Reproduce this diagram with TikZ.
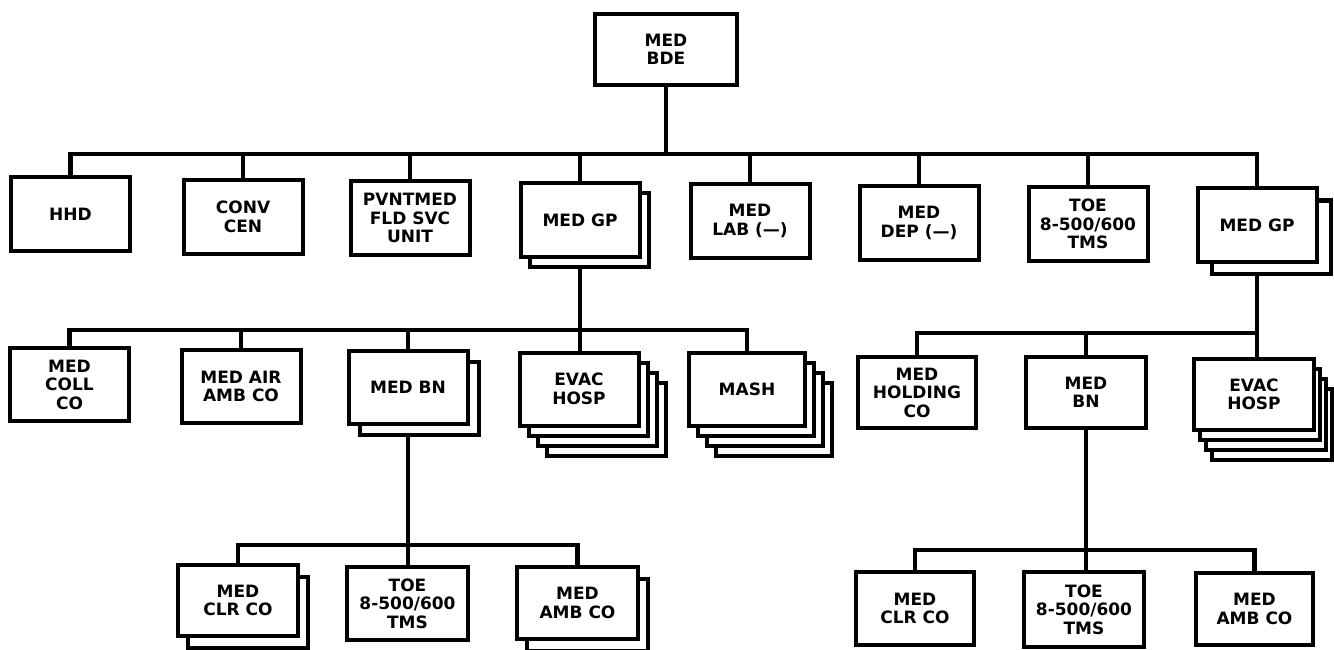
\documentclass[tikz,border=0pt]{standalone}
\usepackage{fontspec}
\setmainfont{DejaVu Sans}
\usetikzlibrary{shadows,backgrounds}
\tikzset{
  unit/.style={draw, line width=4pt, fill=white, align=center,
    minimum width=119pt, minimum height=73pt, inner sep=2pt,
    font=\bfseries\fontsize{17}{18.5}\selectfont},
  link/.style={line width=4.5pt},
  cs/.style 2 args={general shadow={draw=black, fill=white, line width=4pt,
    shadow xshift=#1, shadow yshift=#2}},
}
\begin{document}
\begin{tikzpicture}[x=1pt,y=-1pt]
\useasboundingbox (0,0) rectangle (1334,650);
% bus levels
\coordinate (b1) at (0,154);
\coordinate (b3l) at (0,330);
\coordinate (b3r) at (0,333);
\coordinate (b4l) at (0,545);
\coordinate (b4r) at (0,550);
% row 1
\node[unit, minimum width=142pt, minimum height=71pt] (bde) at (666,49.5) {MED\\BDE};
% row 2
\node[unit] (hhd) at (70.5,214) {HHD};
\node[unit] (conv) at (243,217) {CONV\\CEN};
\node[unit] (pvnt) at (410,218) {PVNTMED\\FLD SVC\\UNIT};
\node[unit, cs={9pt}{-10pt}] (gpL) at (580,220) {MED GP};
\node[unit] (lab) at (750,221) {MED\\LAB (—)};
\node[unit] (dep) at (919,223) {MED\\DEP (—)};
\node[unit] (toe) at (1088,224) {TOE\\8-500/600\\TMS};
\node[unit, cs={14pt}{-12pt}] (gpR) at (1257,225) {MED GP};
% row 3 left
\node[unit] (coll) at (69.5,384.5) {MED\\COLL\\CO};
\node[unit] (air) at (241,386.5) {MED AIR\\AMB CO};
\node[unit, cs={11pt}{-11pt}] (bnL) at (408,387) {MED BN};
\node[unit, cs={27pt}{-30pt}, cs={18pt}{-20pt}, cs={9pt}{-10pt}] (evacL) at (579,389) {EVAC\\HOSP};
\node[unit, minimum width=116pt, cs={27pt}{-30pt}, cs={18pt}{-20pt}, cs={9pt}{-10pt}] (mash) at (747,389) {MASH};
% row 3 right
\node[unit, minimum width=118pt, minimum height=71pt] (hold) at (917,392.5) {MED\\HOLDING\\CO};
\node[unit, minimum width=120pt, minimum height=71pt] (bnR) at (1086,392.5) {MED\\BN};
\node[unit, minimum width=120pt, minimum height=71pt, cs={18pt}{-30pt}, cs={12pt}{-20pt}, cs={6pt}{-10pt}] (evacR) at (1254,394.5) {EVAC\\HOSP};
% row 4 left
\node[unit, minimum width=120pt, minimum height=71pt, cs={10pt}{-12pt}] (clrL) at (238,600.5) {MED\\CLR CO};
\node[unit, minimum width=121pt] (toeL) at (407.5,603.5) {TOE\\8-500/600\\TMS};
\node[unit, minimum width=121pt, minimum height=72pt, cs={10pt}{-12pt}] (ambL) at (577.5,603) {MED\\AMB CO};
% row 4 right
\node[unit, minimum width=118pt] (clrR) at (915,608.5) {MED\\CLR CO};
\node[unit, minimum width=120pt, minimum height=75pt] (toeR) at (1084,609.5) {TOE\\8-500/600\\TMS};
\node[unit, minimum width=117pt, minimum height=72pt] (ambR) at (1254.5,609) {MED\\AMB CO};
% connectors
\begin{pgfonlayer}{background}
\draw[link] (hhd.north) |- (gpR.north |- b1) -- (gpR.north);
\draw[link] (bde.south) -- (bde.south |- b1);
\foreach \n in {conv,pvnt,gpL,lab,dep,toe} \draw[link] (\n.north) -- (\n.north |- b1);
\draw[link] (coll.north) |- (mash.north |- b3l) -- (mash.north);
\draw[link] (gpL.south) -- (gpL.south |- evacL.north);
\foreach \n in {air,bnL} \draw[link] (\n.north) -- (\n.north |- b3l);
\draw[link] (hold.north) |- (gpR.south |- b3r);
\draw[link] (gpR.south) -- (gpR.south |- evacR.north);
\draw[link] (bnR.north) -- (bnR.north |- b3r);
\draw[link] (clrL.north) |- (ambL.north |- b4l) -- (ambL.north);
\draw[link] (bnL.south) -- (bnL.south |- toeL.north);
\draw[link] (clrR.north) |- (ambR.north |- b4r) -- (ambR.north);
\draw[link] (bnR.south) -- (bnR.south |- toeR.north);
\end{pgfonlayer}
\end{tikzpicture}
\end{document}
